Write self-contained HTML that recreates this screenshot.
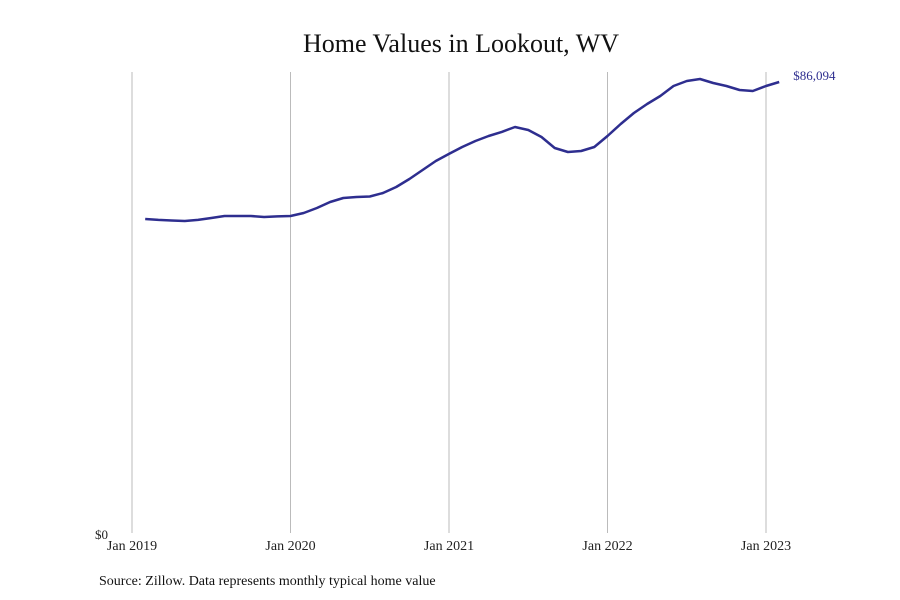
<!DOCTYPE html>
<html><head><meta charset="utf-8"><style>
body{margin:0;background:#fff;}
svg{display:block;font-family:"Liberation Serif",serif;}
</style></head><body>
<svg id="chart" width="900" height="600" viewBox="0 0 900 600">
<text x="461" y="52" text-anchor="middle" font-size="26" fill="#111">Home Values in Lookout, WV</text>
<g id="grid"></g>
<g id="xlabels"></g>
<text x="108" y="539" text-anchor="end" font-size="13" fill="#222">$0</text>
<path id="line" fill="none" stroke="#2e2e8f" stroke-width="2.5" stroke-linejoin="round"/>
<text id="endlabel" font-size="13" fill="#2e2e8f"></text>
<text x="99" y="585" font-size="14" fill="#111">Source: Zillow. Data represents monthly typical home value</text>
</svg>
<script>
const tickLabels=["Jan 2019","Jan 2020","Jan 2021","Jan 2022","Jan 2023"];
const tickYears=[2019,2020,2021,2022,2023];
const values=[59950,59760,59660,59560,59760,60140,60520,60520,60520,60330,60430,60520,
61090,62050,63190,63950,64140,64240,64910,66050,67580,69300,71020,72360,
73690,74840,75790,76560,77510,76930,75600,73500,72740,72930,73690,75790,
78080,80180,81900,83420,85330,86290,86670,85910,85330,84570,84380,85330,86094];
const startYear=2019, startMonth=1; // Feb 2019 (0-indexed month)
const ns="http://www.w3.org/2000/svg";
function xs(t){return 132+(t-2019)*158.5;}
function ys(v){return 533-v*(451/86094);}
const grid=document.getElementById('grid'),xl=document.getElementById('xlabels');
tickYears.forEach((yr,i)=>{
 const l=document.createElementNS(ns,'line');
 
 
 l.setAttribute('x1',xs(yr));l.setAttribute('x2',xs(yr));l.setAttribute('y1',72);l.setAttribute('y2',533);
 l.setAttribute('stroke','#bbb');l.setAttribute('stroke-width','1');grid.appendChild(l);
 const t=document.createElementNS(ns,'text');
 
 
 t.setAttribute('x',xs(yr));t.setAttribute('y',550);t.setAttribute('text-anchor','middle');
 t.setAttribute('font-size','14');t.setAttribute('fill','#222');t.textContent=tickLabels[i];xl.appendChild(t);
});
let d='';
values.forEach((v,i)=>{const t=startYear+(startMonth+i)/12;d+=(i?'L':'M')+xs(t).toFixed(1)+' '+ys(v).toFixed(1);});
document.getElementById('line').setAttribute('d',d);
const last=values[values.length-1],lt=startYear+(startMonth+values.length-1)/12;
const el=document.getElementById('endlabel');
el.setAttribute('x',xs(lt)+14);el.setAttribute('y',ys(last)-2);
el.textContent='$'+last.toLocaleString('en-US');
</script>
</body></html>
